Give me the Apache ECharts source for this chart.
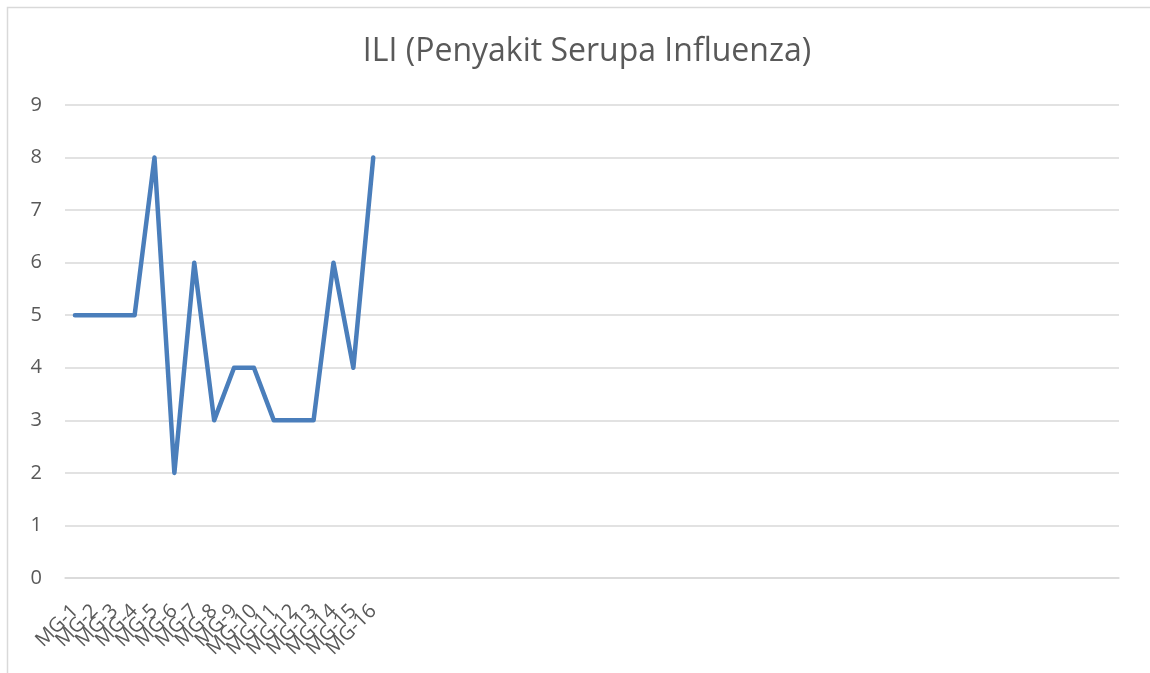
<!DOCTYPE html>
<html>
<head>
<meta charset="utf-8">
<script src="https://cdn.jsdelivr.net/npm/echarts@6/dist/echarts.min.js"></script>
<style>
html,body{margin:0;padding:0;background:#fff;}
#chart{width:1150px;height:673px;}
</style>
</head>
<body>
<div id="chart"></div>
<script>
const titleText = 'ILI (Penyakit Serupa Influenza)';
const weekLabels = ['MG-1','MG-2','MG-3','MG-4','MG-5','MG-6','MG-7','MG-8','MG-9','MG-10','MG-11','MG-12','MG-13','MG-14','MG-15','MG-16'];
const blankWeeks = 37; // remaining weeks of the year, without labels
const iliValues = [5,5,5,5,8,2,6,3,4,4,3,3,3,6,4,8];
const yTicks = [0,1,2,3,4,5,6,7,8,9];

const categories = weekLabels.concat(new Array(blankWeeks).fill(''));

const chart = echarts.init(document.getElementById('chart'), null, {renderer:'canvas'});
chart.setOption({
  animation: false,
  backgroundColor: '#ffffff',
  title: {
    text: titleText,
    left: 582,
    top: 31,
    textAlign: 'center',
    textStyle: {fontFamily: 'Open Sans', fontSize: 32, fontWeight: 'normal', color: '#595959'}
  },
  graphic: [{
    type: 'rect', shape: {x: 7.5, y: 7.5, width: 1200, height: 700},
    style: {fill: 'none', stroke: '#d9d9d9', lineWidth: 1.5}, silent: true
  }],
  grid: {left: 65, right: 31, top: 105, bottom: 95, containLabel: false},
  xAxis: {
    type: 'category',
    data: categories,
    boundaryGap: true,
    axisLine: {show: true, lineStyle: {color: '#d9d9d9', width: 1.5}},
    axisTick: {show: false},
    axisLabel: {interval: 0, rotate: 45, margin: 30, color: '#595959', fontFamily: 'Open Sans', fontSize: 20}
  },
  yAxis: {
    type: 'value',
    min: yTicks[0], max: yTicks[yTicks.length-1], interval: 1,
    axisLine: {show: false},
    axisTick: {show: false},
    axisLabel: {margin: 23, color: '#595959', fontFamily: 'Open Sans', fontSize: 20},
    splitLine: {lineStyle: {color: '#d9d9d9', width: 1.5}}
  },
  series: [{
    type: 'line',
    data: iliValues,
    showSymbol: false,
    symbol: 'none',
    lineStyle: {color: '#4a7ebb', width: 4.5, join: 'round', cap: 'round'},
    itemStyle: {color: '#4a7ebb'}
  }]
});
</script>
</body>
</html>
